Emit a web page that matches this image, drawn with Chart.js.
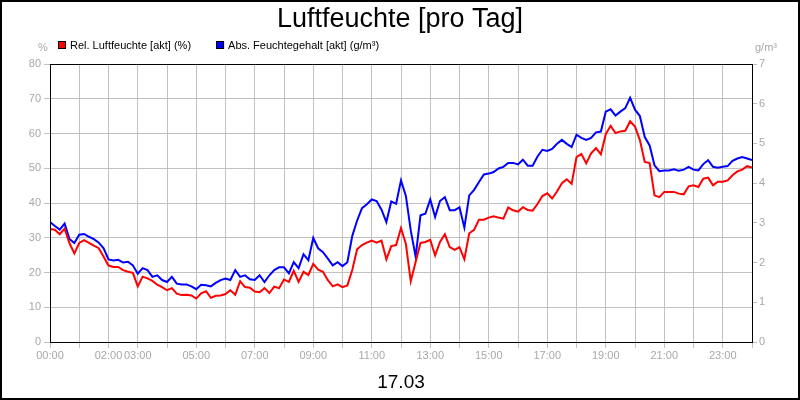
<!DOCTYPE html>
<html>
<head>
<meta charset="utf-8">
<script src="https://cdn.jsdelivr.net/npm/chart.js@4/dist/chart.umd.min.js"></script>
<style>
  html, body { margin: 0; padding: 0; background: #fff; }
</style>
</head>
<body>
<canvas id="humidityChart" width="800" height="400"></canvas>
<script>
// one reading every 10 minutes, 00:00 .. 24:00
const sampleMinutes = 10;

// Rel. Luftfeuchte (%)
const relHumidity = [
  32.5, 32.3, 31.0, 32.6, 28.4, 25.5,
  28.5, 29.3, 28.5, 27.7, 27.0, 24.5,
  22.0, 21.6, 21.6, 20.7, 20.2, 19.9,
  16.0, 18.8, 18.3, 17.6, 16.5, 15.8,
  14.9, 15.5, 13.9, 13.5, 13.6, 13.4,
  12.5, 14.0, 14.6, 12.7, 13.3, 13.4,
  13.8, 14.9, 13.6, 17.5, 15.8, 15.6,
  14.5, 14.3, 15.5, 14.1, 15.9, 15.5,
  18.0, 17.3, 20.5, 17.3, 20.2, 19.3,
  22.5, 20.8, 20.2, 17.8, 16.0, 16.6,
  15.8, 16.3, 20.7, 26.7, 27.9, 28.6,
  29.2, 28.6, 29.2, 23.8, 27.6, 27.9,
  32.8, 28.2, 17.5, 23.0, 28.5, 28.8,
  29.4, 24.9, 28.8, 31.0, 27.3, 26.5,
  27.3, 23.8, 31.3, 32.3, 35.2, 35.2,
  35.8, 36.2, 35.8, 35.5, 38.7, 37.9,
  37.5, 38.8, 38.0, 37.8, 39.7, 42.0,
  42.8, 41.3, 43.3, 45.7, 46.8, 45.5,
  53.2, 54.1, 51.4, 54.3, 55.8, 54.0,
  59.8, 62.2, 60.1, 60.6, 60.8, 63.5,
  62.0, 58.1, 51.8, 51.5, 42.2, 41.7,
  43.2, 43.2, 43.2, 42.7, 42.5, 44.8,
  45.1, 44.6, 47.0, 47.3, 45.1, 46.1,
  46.1, 46.5, 48.0, 49.1, 49.6, 50.6,
  50.2
];

// Abs. Feuchtegehalt (g/m³)
const absHumidity = [
  3.02, 2.92, 2.83, 2.98, 2.59, 2.49,
  2.70, 2.72, 2.65, 2.59, 2.50, 2.36,
  2.08, 2.05, 2.07, 2.00, 2.02, 1.93,
  1.72, 1.86, 1.81, 1.64, 1.68, 1.56,
  1.51, 1.64, 1.47, 1.45, 1.45, 1.40,
  1.33, 1.44, 1.43, 1.40, 1.49, 1.56,
  1.60, 1.56, 1.81, 1.64, 1.68, 1.58,
  1.56, 1.68, 1.51, 1.68, 1.81, 1.88,
  1.88, 1.73, 2.01, 1.86, 2.21, 2.06,
  2.62, 2.36, 2.26, 2.10, 1.93, 2.01,
  1.91, 2.01, 2.67, 3.06, 3.37, 3.47,
  3.59, 3.55, 3.33, 3.02, 3.54, 3.48,
  4.07, 3.68, 2.81, 2.15, 3.19, 3.23,
  3.59, 3.15, 3.55, 3.65, 3.32, 3.32,
  3.39, 2.88, 3.69, 3.83, 4.03, 4.22,
  4.24, 4.28, 4.37, 4.41, 4.51, 4.51,
  4.47, 4.59, 4.44, 4.44, 4.67, 4.84,
  4.81, 4.86, 4.99, 5.09, 4.99, 4.91,
  5.22, 5.14, 5.09, 5.14, 5.28, 5.30,
  5.80, 5.86, 5.70, 5.80, 5.89, 6.15,
  5.85, 5.69, 5.16, 4.95, 4.45, 4.30,
  4.32, 4.32, 4.35, 4.31, 4.34, 4.41,
  4.34, 4.32, 4.48, 4.58, 4.41, 4.39,
  4.41, 4.43, 4.56, 4.62, 4.66, 4.62,
  4.58
];

// labels under each full hour (blank = skipped)
const hourLabels = ['00:00', '', '02:00', '03:00', '', '05:00', '', '07:00', '', '09:00', '',
  '11:00', '', '13:00', '', '15:00', '', '17:00', '', '19:00', '', '21:00', '', '23:00', ''];
const dayLabel = '17.03';
const chartTitle = 'Luftfeuchte [pro Tag]';
const relLabel = 'Rel. Luftfeuchte [akt] (%)';
const absLabel = 'Abs. Feuchtegehalt [akt] (g/m³)';

const hours = relHumidity.map((v, i) => i * sampleMinutes / 60);
const toPoints = (arr) => arr.map((v, i) => ({ x: hours[i], y: v }));

const fontFamily = '"Liberation Sans", Arial, sans-serif';
const tickGray = '#a8a8a8';
const gridGray = '#c0c0c0';

// white background, outer border, plot frame, legend row and axis units
const framePlugin = {
  id: 'frame',
  beforeDraw(chart) {
    const ctx = chart.ctx;
    ctx.save();
    ctx.fillStyle = '#fff';
    ctx.fillRect(0, 0, chart.width, chart.height);
    ctx.restore();
  },
  afterDraw(chart) {
    const { ctx, chartArea } = chart;
    ctx.save();
    ctx.strokeStyle = '#000';
    ctx.lineWidth = 1;
    ctx.strokeRect(chartArea.left + 0.5, chartArea.top + 0.5,
      chartArea.right - chartArea.left, chartArea.bottom - chartArea.top);
    ctx.lineWidth = 2;
    ctx.strokeRect(1, 1, chart.width - 2, chart.height - 2);

    // legend
    ctx.font = '11px ' + fontFamily;
    ctx.textBaseline = 'middle';
    ctx.textAlign = 'left';
    const rowY = chartArea.top - 19;
    let lx = chartArea.left + 8;
    chart.data.datasets.forEach(ds => {
      ctx.fillStyle = ds.borderColor;
      ctx.fillRect(lx, rowY - 4, 8, 8);
      ctx.lineWidth = 1;
      ctx.strokeStyle = '#000';
      ctx.strokeRect(lx + 0.5, rowY - 3.5, 7, 7);
      ctx.fillStyle = '#000';
      ctx.fillText(ds.label, lx + 12, rowY + 0.5);
      lx += 12 + ctx.measureText(ds.label).width + 25;
    });

    // axis units
    ctx.fillStyle = tickGray;
    ctx.textAlign = 'center';
    ctx.fillText('%', chartArea.left - 7, chartArea.top - 16);
    ctx.fillText('g/m³', chartArea.right + 14, chartArea.top - 16);
    ctx.restore();
  }
};

const ctx = document.getElementById('humidityChart').getContext('2d');
const humidityChart = new Chart(ctx, {
  type: 'line',
  data: {
    datasets: [{
      label: relLabel,
      data: toPoints(relHumidity),
      borderColor: '#ff0000',
      backgroundColor: '#ff0000',
      borderWidth: 2,
      pointRadius: 0,
      tension: 0,
      yAxisID: 'y'
    }, {
      label: absLabel,
      data: toPoints(absHumidity),
      borderColor: '#0000ff',
      backgroundColor: '#0000ff',
      borderWidth: 2,
      pointRadius: 0,
      tension: 0,
      yAxisID: 'y1'
    }]
  },
  options: {
    responsive: false,
    animation: false,
    devicePixelRatio: 1,
    layout: { padding: 0 },
    plugins: {
      title: {
        display: true,
        text: chartTitle,
        color: '#000',
        font: { family: fontFamily, size: 27, weight: 'normal', lineHeight: 1.2 },
        padding: { top: 3, bottom: 28.6 }
      },
      legend: { display: false },
      tooltip: { enabled: false }
    },
    scales: {
      x: {
        type: 'linear',
        min: 0,
        max: 24,
        afterFit(scale) { scale.height = 58; },
        ticks: {
          stepSize: 1,
          autoSkip: false,
          maxRotation: 0,
          color: tickGray,
          padding: 1,
          font: { family: fontFamily, size: 11 },
          callback: (v) => hourLabels[v] ?? ''
        },
        grid: { color: gridGray, tickLength: 6 },
        border: { color: '#000' },
        title: {
          display: true,
          text: dayLabel,
          color: '#000',
          font: { family: fontFamily, size: 19 },
          padding: { top: 2, bottom: 6 }
        }
      },
      y: {
        position: 'left',
        min: 0,
        max: 80,
        afterFit(scale) { scale.width = 50; },
        ticks: {
          stepSize: 10,
          color: tickGray,
          padding: 3,
          font: { family: fontFamily, size: 11 }
        },
        grid: { color: gridGray, tickLength: 6 },
        border: { color: '#000' }
      },
      y1: {
        position: 'right',
        min: 0,
        max: 7,
        afterFit(scale) { scale.width = 48; },
        ticks: {
          stepSize: 1,
          color: tickGray,
          padding: 2,
          font: { family: fontFamily, size: 11 }
        },
        grid: { drawOnChartArea: false, color: gridGray, tickLength: 5 },
        border: { color: '#000' }
      }
    }
  },
  plugins: [framePlugin]
});
</script>
</body>
</html>
